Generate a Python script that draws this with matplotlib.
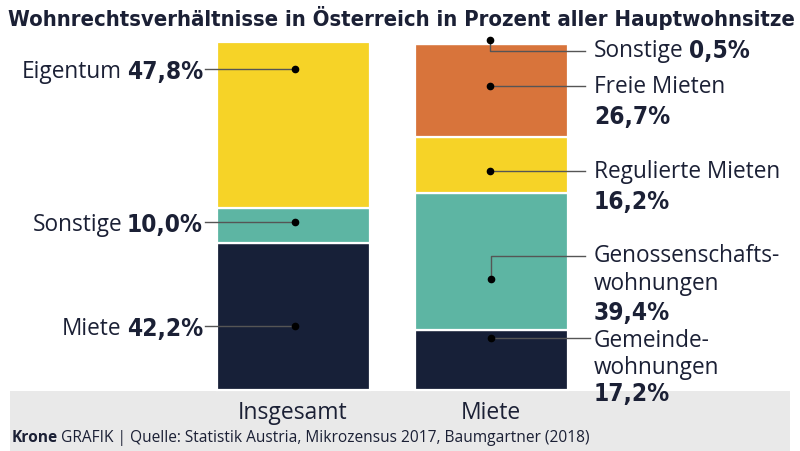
import matplotlib.pyplot as plt
from matplotlib.patches import Rectangle

# Daten
spalten = ["Insgesamt", "Miete"]
insgesamt_kat = ["Miete", "Sonstige", "Eigentum"]
insgesamt_wert = [42.2, 10.0, 47.8]
miete_kat = ["Gemeinde-\nwohnungen", "Genossenschafts-\nwohnungen", "Regulierte Mieten", "Freie Mieten", "Sonstige"]
miete_wert = [17.2, 39.4, 16.2, 26.7, 0.5]

NAVY = "#172038"
TEAL = "#5db5a3"
GELB = "#f6d327"
ORANGE = "#d8743b"
TEXT = "#1b2035"

insgesamt_farben = [NAVY, TEAL, GELB]
miete_farben = [NAVY, TEAL, GELB, ORANGE, "white"]

REG = "Open Sans"
BOLD = dict(family="DejaVu Sans", fontstretch="condensed", fontweight="bold")
FS_REG = 16.3
FS_PROZ = 17.6

fig = plt.figure(figsize=(8, 4.52), dpi=100)
fig.patch.set_facecolor("white")

# Pixel -> Daten: 0% bei y=391px, 100% bei y=43px
PX = 3.48
y_top = 100 + 43 / PX
y_bot = -(452 - 391) / PX

ax = fig.add_axes([0, 0, 1, 1])
ax.set_xlim(0, 800)
ax.set_ylim(y_bot, y_top)
ax.axis("off")

def py(p):
    # Pixel-y in Datenkoordinate
    return (391 - p) / PX

def proz(w):
    return f"{w:.1f}%".replace(".", ",")

# Grauer Fußbereich
ax.add_patch(Rectangle((10, y_bot - 5), 780, py(392) - y_bot + 5,
                       facecolor="#e9e9e9", edgecolor="none", zorder=0))

def stapel(x, werte, farben):
    unten = 0
    for w, f in zip(werte, farben):
        ax.bar(x, w, bottom=unten, width=153, color=f, edgecolor="white",
               linewidth=1.6, zorder=2)
        unten += w

stapel(293, insgesamt_wert, insgesamt_farben)
stapel(491, miete_wert, miete_farben)

def punkt(x, y):
    ax.plot(x, py(y), "o", color="black", ms=4.5, zorder=5)

def linie(xs, ys):
    ax.plot(xs, [py(v) for v in ys], color="#555555", lw=1.0, zorder=4)

def reg(x, y, s, ha="left"):
    return ax.text(x, py(y), s, ha=ha, va="center", fontsize=FS_REG,
                   family=REG, color=TEXT, zorder=6)

def fett(x, y, s, ha="left"):
    return ax.text(x, py(y), s, ha=ha, va="center", fontsize=FS_PROZ,
                   color=TEXT, zorder=6, **BOLD)

# Linke Beschriftungen
links = [(insgesamt_kat[2], insgesamt_wert[2], 70),
         (insgesamt_kat[1], insgesamt_wert[1], 223),
         (insgesamt_kat[0], insgesamt_wert[0], 327)]
for name, wert, y in links:
    linie([205, 295], [y, y])
    punkt(295, y)
    t = fett(203, y + 2, proz(wert), ha="right")
    fig.canvas.draw()
    bb = t.get_window_extent()
    reg(bb.x0 - 5, y + 2, name, ha="right")

# Rechte Beschriftungen
TX = 594
# Sonstige 0,5%
punkt(490, 41)
linie([490, 490, 585], [41, 52, 52])
t = reg(TX, 51, miete_kat[4])
fig.canvas.draw()
bb = t.get_window_extent()
fett(bb.x1 + 5, 51, proz(miete_wert[4]))

# Freie Mieten, Regulierte Mieten
for idx, y in [(3, 87), (2, 172)]:
    punkt(490, y)
    linie([490, 585], [y, y])
    reg(TX, y, miete_kat[idx])
    fett(TX, y + 30, proz(miete_wert[idx]))

# Genossenschaftswohnungen
punkt(491, 280)
linie([491, 491, 585], [280, 257, 257])
z1, z2 = miete_kat[1].split("\n")
reg(TX, 256, z1)
reg(TX, 284, z2)
fett(TX, 313, proz(miete_wert[1]))

# Gemeindewohnungen
punkt(491, 339)
linie([491, 590], [339, 339])
z1, z2 = miete_kat[0].split("\n")
reg(TX, 341, z1)
reg(TX, 368, z2)
fett(TX, 394, proz(miete_wert[0]))

# Spaltenbeschriftungen
for x, s in zip([293, 491], spalten):
    ax.text(x, py(413), s, ha="center", va="center", fontsize=16.5, family=REG,
            color=TEXT, zorder=6)

# Titel
ax.text(8, py(18), "Wohnrechtsverhältnisse in Österreich in Prozent aller Hauptwohnsitze",
        ha="left", va="center", fontsize=15.8, color=TEXT, **BOLD)

# Quelle
t = ax.text(12, py(438), "Krone", ha="left", va="center", fontsize=11.2, family=REG,
            fontweight="bold", color=TEXT, zorder=6)
fig.canvas.draw()
bb = t.get_window_extent()
ax.text(bb.x1 + 3, py(438), "GRAFIK | Quelle: Statistik Austria, Mikrozensus 2017, Baumgartner (2018)",
        ha="left", va="center", fontsize=11.2, family=REG, color=TEXT, zorder=6)

fig.savefig("out.png", dpi=100)
